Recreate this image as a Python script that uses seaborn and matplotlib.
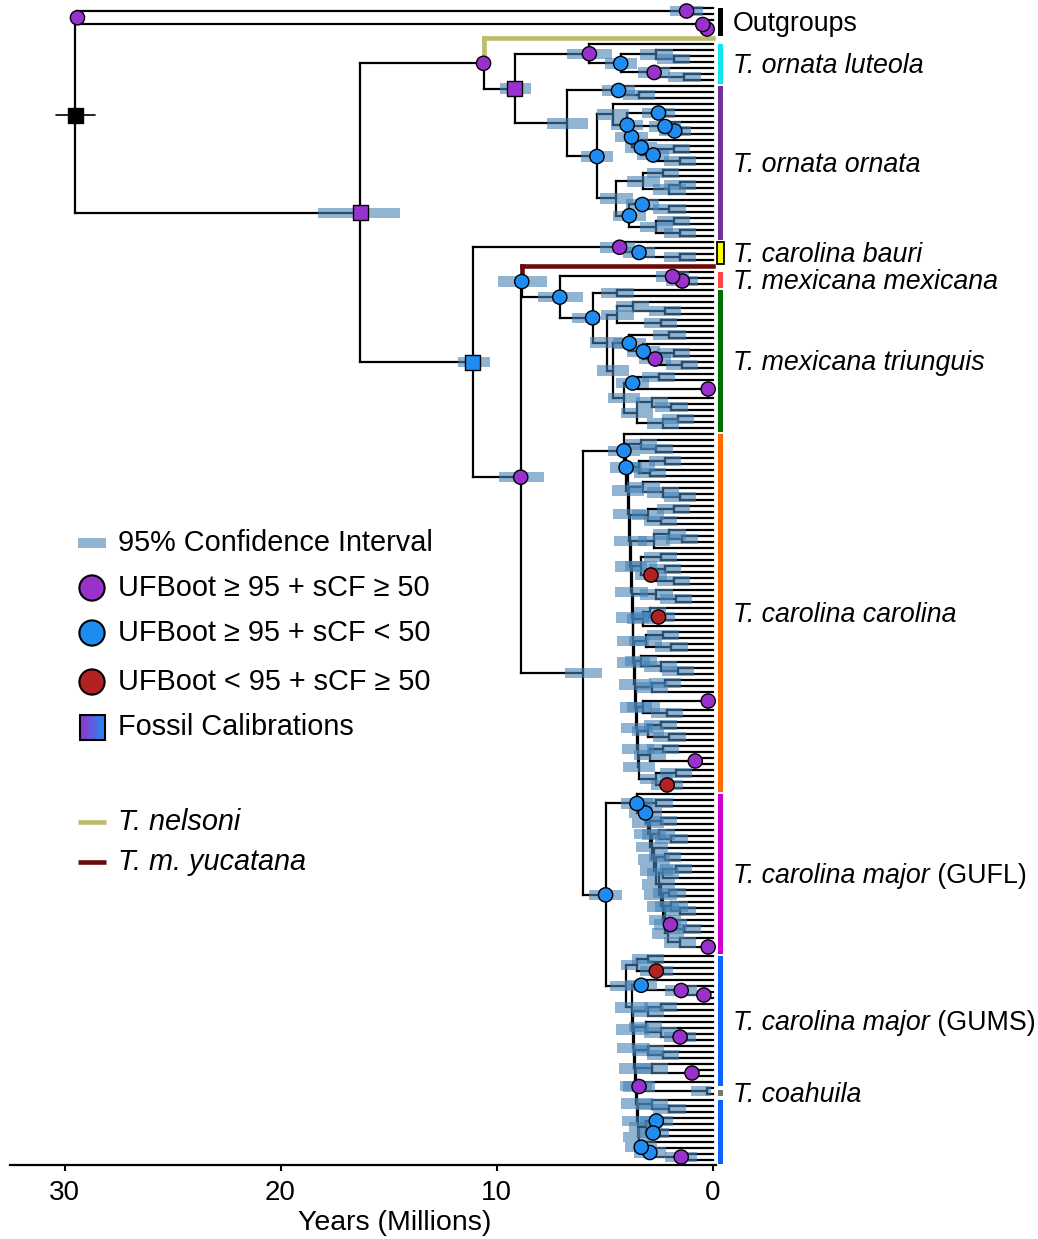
import matplotlib
matplotlib.use("Agg")
import numpy as np
import pandas as pd
import matplotlib.pyplot as plt
from matplotlib.collections import LineCollection
from matplotlib.patches import Rectangle
import seaborn as sns

# ------------------------------------------------------------------ DATA
# Newick-like strings. Tips: one letter (clade code). Internal node label:
#   age(Myr) | marker | ciOld:ciYoung      marker p/b/r circle, P/B/K square; ci "n" = none
OUTGROUPS = "((x,x)1.2|p,(x,(x,x)0.25|p|n)0.45|p|n)29.4|p|n"
LUTEOLA = "(x,((x,(x,x)1.8)2.6,(x,(x,x)1.3)2.7|p)4.25|b)5.7|p|6.75:4.65"
ORNATA_TOP = "(x,(x,x)3.4)4.35|b"
ORNATA_A = "(x,((x,x)2.5|b,((x,(x,x)1.75|b)2.2|b,(x,((x,x)1.8,(x,x)1.5)2.75|b)3.3|b)3.75|b)3.95|b)4.6"
ORNATA_E = "(((x,x)2.3,((x,x)1.5,x)2.0)3.2,((x,(x,x)2.0)3.25|b,((x,x)1.8,(x,x)1.5)2.6)3.85|b)4.45"
BAURI = "(x,(x,(x,x)1.5)3.4|b)4.3|p|5.2:3.6"
MEXICANA = "(x,(x,x)1.4|p)1.85|p"
TRI_T1 = "(x,x)4.4"
TRI_U = "((x,(x,x)2.2)3.7,(x,x)2.4)4.4"
TRI_P1 = "((x,x)2.0,(x,((x,x)1.8,(x,x)1.4)2.65|p)3.2|b)3.85|b"
TRI_VB = "((x,x)2.5,(x,x)0.2|p|n)3.7|b"
TRI_V2 = "((x,(x,x)1.9)2.8,((x,x)1.6,x)2.3)3.5"

CAROLINA_SUBCLADES = ["x", "(x,(x,x)2.6)3.3", "((x,x)2.2,(x,x)2.9)3.4", "(x,(x,(x,x)1.5)2.3)3.2",
                      "((x,x)1.8,(x,x)2.4)3.0", "((x,(x,x)1.4)2.0,x)2.7",
                      "((x,x)2.4,((x,x)2.2,(x,x)1.8)2.85|r)3.3", "(x,(x,x)1.7)2.6",
                      "((x,(x,x)2.5|r)2.9,x)3.2", "((x,x)2.3,(x,x)1.9)3.1", "(x,(x,(x,x)1.6)2.4)3.3",
                      "((x,x)2.2,x)2.8", "((x,x)0.2|p|n,(x,x)2.1)3.2", "((x,x)2.4,(x,x)2.0)3.0",
                      "((x,x)2.3,(x,x)0.8|p|n)2.9", "((x,x)1.7,(x,x)2.1|r)2.6"]
CAROLINA_SPINE = ["4.1|b", "4.0|b", "3.9", "3.85", "3.8", "3.78", "3.75", "3.7", "3.68",
                  "3.65", "3.6", "3.55", "3.5", "3.45", "3.4"]

GUFL_SUBCLADES = ["x", "(x,x)2.6", "x", "(x,x)2.4", "(x,(x,x)1.9)2.5", "x", "(x,x)2.2",
                  "((x,x)1.7,x)2.3", "x", "(x,x)2.0", "(x,(x,x)1.5)1.9", "(x,(x,x)1.3)1.95|p",
                  "x", "(x,x)0.2|p|n"]
GUFL_SPINE = ["3.5|b", "3.1|b", "3.0", "2.9", "2.8", "2.7", "2.6", "2.5", "2.4", "2.3",
              "2.2", "2.05", "1.5"]

GUMS_TOP = "((x,x)3.0,(x,x)2.6|r)3.5"
GUMS_SUBCLADES = ["(x,(x,(x,x)0.4|p|n)1.45|p)3.3|b", "((x,x)2.4,x)3.0", "(x,(x,(x,x)1.5|p)2.4)3.1",
                  "(x,(x,x)2.3)3.0", "(x,(x,x)0.95|p|n)2.8", "(x,(h,h)0.25|n)3.4|p",
                  "(x,(x,x)2.0)2.8", "((x,x)2.6|b,(x,x)2.75|b)3.1", "(x,(x,(x,x)1.45|p)2.9|b)3.3|b"]
GUMS_SPINE = ["3.75", "3.7", "3.65", "3.6", "3.55", "3.5", "3.45", "3.4"]

AGE_ROOT = "29.5|K|30.4:28.6"
AGE_CROWN = "16.3|P|18.26:14.47"
AGE_NELSONI_SPLIT = "10.6|p|n"
AGE_ORNATA_GROUP = "9.15|P|9.85:8.4"
AGE_ORNATA = "6.75||7.67:5.78"
AGE_ORNATA_LOWER = "5.35|b"
AGE_SOUTH = "11.1|B|11.8:10.3"
AGE_CAR_MEX = "8.88|p|9.9:7.8"
AGE_YUC = "8.83|b|9.94:7.67"
AGE_MEX_TRI = "7.07|b|8.1:6.0"
AGE_TRI_T2 = "4.9"
AGE_TRI_V = "4.1"
AGE_TRI_VP = "4.6"
AGE_TRI_ROOT = "5.55|b|6.5:5.2"
AGE_CAR_MAJOR = "6.0||6.85:5.1"
AGE_MAJOR = "4.95|b|5.7:4.2"
AGE_GUMS = "4.0"

CLADE_CODES = ["o", "l", "r", "b", "m", "t", "c", "f", "s", "h"]
CLADE_ITALIC = ["", "T. ornata luteola", "T. ornata ornata", "T. carolina bauri",
                "T. mexicana mexicana", "T. mexicana triunguis", "T. carolina carolina",
                "T. carolina major", "T. carolina major", "T. coahuila"]
CLADE_PLAIN = ["Outgroups", "", "", "", "", "", "", " (GUFL)", " (GUMS)", ""]
LEGEND_TEXTS = ["95% Confidence Interval", "UFBoot ≥ 95 + sCF ≥ 50", "UFBoot ≥ 95 + sCF < 50",
                "UFBoot < 95 + sCF ≥ 50", "Fossil Calibrations", "T. nelsoni", "T. m. yucatana"]
XTICKS = [30, 20, 10, 0]

# ------------------------------------------------------------------ STYLE
PURPLE, BLUE, RED = "#9932cc", "#1e8cf0", "#b22222"
CI_COLOR = "steelblue"
OLIVE, MAROON = "#bdbb6c", "#6a0a0a"
BAR_COLORS = {"o": "black", "l": "#10e6f0", "r": "#7030a0", "b": "#ffff00", "m": "#ff4545",
              "t": "#006f00", "c": "#ff6a00", "f": "#cc00cc", "s": "#0a64ff", "h": "#777777"}
CI_HALF = 0.75


def ladder(subs, labels):
    s = subs[-1]
    for sub, lab in zip(reversed(subs[:-1]), reversed(labels)):
        s = f"({sub},{s}){lab}"
    return s


def code(s, c):
    return s.replace("x", c)


luteola = code(LUTEOLA, "l")
ornata = f"({code(ORNATA_TOP,'r')},({code(ORNATA_A,'r')},{code(ORNATA_E,'r')}){AGE_ORNATA_LOWER}){AGE_ORNATA}"
upper = f"(N,({luteola},{ornata}){AGE_ORNATA_GROUP}){AGE_NELSONI_SPLIT}"
tri = code(f"({TRI_T1},({TRI_U},({TRI_P1},({TRI_VB},{TRI_V2}){AGE_TRI_V}){AGE_TRI_VP}){AGE_TRI_T2}){AGE_TRI_ROOT}", "t")
mextri = f"({code(MEXICANA,'m')},{tri}){AGE_MEX_TRI}"
yuc = f"(Y,{mextri}){AGE_YUC}"
carolina = code(ladder(CAROLINA_SUBCLADES, CAROLINA_SPINE), "c")
gufl = code(ladder(GUFL_SUBCLADES, GUFL_SPINE), "f")
gums = f"({code(GUMS_TOP,'s')},{code(ladder(GUMS_SUBCLADES, GUMS_SPINE),'s')}){AGE_GUMS}"
major = f"({gufl},{gums}){AGE_MAJOR}"
south = f"({code(BAURI,'b')},({yuc},({carolina},{major}){AGE_CAR_MAJOR}){AGE_CAR_MEX}){AGE_SOUTH}"
crown = f"({upper},{south}){AGE_CROWN}"
TREE = f"({code(OUTGROUPS,'o')},{crown}){AGE_ROOT}"


def parse(s):
    pos = 0

    def node():
        nonlocal pos
        if s[pos] == "(":
            pos += 1
            kids = [node()]
            while s[pos] == ",":
                pos += 1
                kids.append(node())
            pos += 1
            st = pos
            while pos < len(s) and s[pos] not in ",)":
                pos += 1
            return {"kids": kids, "label": s[st:pos]}
        st = pos
        while pos < len(s) and s[pos] not in ",)":
            pos += 1
        return {"tip": s[st:pos]}
    return node()


tree = parse(TREE)
tips, nodes = [], []


def layout(n):
    if "tip" in n:
        n["y"] = len(tips)
        n["age"] = 0.0
        tips.append(n["tip"])
        return
    for k in n["kids"]:
        layout(k)
    parts = n["label"].split("|")
    n["age"] = float(parts[0])
    n["marker"] = parts[1] if len(parts) > 1 else ""
    ci = parts[2] if len(parts) > 2 else ""
    if ci == "n":
        n["ci"] = None
    elif ci:
        a, b = ci.split(":")
        n["ci"] = (float(b), float(a))
    else:
        n["ci"] = (max(n["age"] - CI_HALF, 0.05), n["age"] + CI_HALF)
    n["y"] = (n["kids"][0]["y"] + n["kids"][-1]["y"]) / 2
    nodes.append(n)


layout(tree)
N = len(tips)

black, colored = [], []
for n in nodes:
    black.append([(n["age"], n["kids"][0]["y"]), (n["age"], n["kids"][-1]["y"])])
    for k in n["kids"]:
        seg = [(n["age"], k["y"]), (k["age"], k["y"])]
        if k.get("tip") in ("N", "Y"):
            col = OLIVE if k["tip"] == "N" else MAROON
            colored.append(([(n["age"], n["y"]), (n["age"], k["y"])], col))
            colored.append(([(n["age"], k["y"]), (-0.02, k["y"])], col))
        else:
            black.append(seg)

# ------------------------------------------------------------------ FIGURE
sns.set_style("ticks")
plt.rcParams["font.family"] = ["Liberation Sans", "DejaVu Sans"]
for key in ["text.color", "axes.labelcolor", "xtick.color", "ytick.color", "axes.edgecolor"]:
    plt.rcParams[key] = "black"

W, H = 1038, 1239
fig = plt.figure(figsize=(W / 100, H / 100), dpi=100)
AX_L, AX_R, AX_T, AX_B = 9.5, 716, 0, 1165
ax = fig.add_axes([AX_L / W, (H - AX_B) / H, (AX_R - AX_L) / W, (AX_B - AX_T) / H])
X0, PX = 712.5, 21.6
FIRST, LAST = 8, 1160
S = (LAST - FIRST) / (N - 1)


def px2age(x):
    return (X0 - x) / PX


ax.add_collection(LineCollection(black, colors="black", linewidths=1.6,
                                 capstyle="projecting", zorder=2))
for seg, col in colored:
    ax.add_collection(LineCollection([seg], colors=col, linewidths=3.3,
                                     capstyle="projecting", zorder=4))

# confidence intervals
ci_nodes = [n for n in nodes if n["ci"] is not None and n["marker"] != "K"]
ax.barh([n["y"] for n in ci_nodes], [n["ci"][1] - n["ci"][0] for n in ci_nodes],
        left=[n["ci"][0] for n in ci_nodes], height=1.75, color=CI_COLOR, alpha=0.6,
        linewidth=0, zorder=3)
for n in nodes:
    if n["marker"] == "K":
        ax.plot([n["ci"][1], n["ci"][0]], [n["y"], n["y"]], color="black", lw=1.2, zorder=3)

df = pd.DataFrame({"age": [n["age"] for n in nodes], "y": [n["y"] for n in nodes],
                   "kind": [n["marker"] for n in nodes]})
circ = df[df.kind.isin(["p", "b", "r"])]
sq = df[df.kind.isin(["P", "B", "K"])]
sns.scatterplot(data=circ, x="age", y="y", hue="kind", palette={"p": PURPLE, "b": BLUE, "r": RED},
                s=105, edgecolor="black", linewidth=1.0, legend=False, ax=ax, zorder=6)
sns.scatterplot(data=sq, x="age", y="y", hue="kind", palette={"P": PURPLE, "B": BLUE, "K": "black"},
                marker="s", s=120, edgecolor="black", linewidth=1.0, legend=False, ax=ax, zorder=6)

# clade bars and labels
runs = []
for i, c in enumerate(tips):
    if runs and runs[-1][0] == c and runs[-1][2] == i - 1:
        runs[-1][2] = i
    else:
        runs.append([c, i, i])
labelled = set()
LABEL_DY = 4 / S
for c, a, b in runs:
    if c not in BAR_COLORS:
        continue
    pad = -0.05 if c == "h" else 0.35
    x1, x2 = (716.5, 723.5) if c == "b" else (718, 723)
    bars = ax.barh([(a + b) / 2 + 0.3], [px2age(x1) - px2age(x2)], left=[px2age(x2)],
                   height=(b - a) + 2 * pad, color=BAR_COLORS[c],
                   edgecolor="black" if c == "b" else "none", linewidth=1.3 if c == "b" else 0,
                   zorder=5)
    for p in bars.patches:
        p.set_clip_on(False)
    if c not in labelled:
        labelled.add(c)
        j = CLADE_CODES.index(c)
        ytxt = (a + b) / 2 + LABEL_DY
        if CLADE_ITALIC[j]:
            t = ax.text(px2age(733), ytxt, CLADE_ITALIC[j], fontsize=19.3, style="italic",
                        va="center", ha="left", clip_on=False)
            if CLADE_PLAIN[j]:
                ax.annotate(CLADE_PLAIN[j], xy=(1, 0.5), xycoords=t, fontsize=19.3,
                            va="center", ha="left", annotation_clip=False)
        else:
            ax.text(px2age(733), ytxt, CLADE_PLAIN[j], fontsize=19.3, va="center", ha="left",
                    clip_on=False)

ax.set_xlim(px2age(AX_L), px2age(AX_R))
ax.set_ylim((AX_B - FIRST) / S, (AX_T - FIRST) / S)
ax.set_xticks(XTICKS)
ax.set_xticklabels([str(t) for t in XTICKS], fontsize=20)
ax.set_yticks([])
ax.set_ylabel("")
ax.set_xlabel("Years (Millions)", fontsize=20.5, labelpad=0)
ax.xaxis.set_label_coords((395 - AX_L) / (AX_R - AX_L), -0.039)
ax.tick_params(axis="x", direction="out", length=4, width=1.5, pad=7, color="black",
               labelcolor="black")
for side in ["top", "right", "left"]:
    ax.spines[side].set_visible(False)
ax.spines["bottom"].set_linewidth(1.6)
ax.spines["bottom"].set_color("black")
ax.patch.set_alpha(0)

# ------------------------------------------------------------------ LEGEND (pixel overlay)
lax = fig.add_axes([0, 0, 1, 1])
lax.set_xlim(0, W)
lax.set_ylim(H, 0)
lax.axis("off")
rows = [543, 588, 633, 682, 727, 822, 862]
lax.add_patch(Rectangle((78, rows[0] - 5), 28, 10, color=CI_COLOR, alpha=0.6, lw=0))
leg = pd.DataFrame({"x": [92, 92, 92], "y": rows[1:4], "k": ["p", "b", "r"]})
sns.scatterplot(data=leg, x="x", y="y", hue="k", palette={"p": PURPLE, "b": BLUE, "r": RED},
                s=330, edgecolor="black", linewidth=1.5, legend=False, ax=lax)
grad = np.linspace(0, 1, 64)[None, :, None]
c1 = np.array(matplotlib.colors.to_rgb(PURPLE))[None, None, :]
c2 = np.array(matplotlib.colors.to_rgb(BLUE))[None, None, :]
lax.imshow(c1 * (1 - grad) + c2 * grad, extent=(79.5, 104.5, rows[4] + 12.5, rows[4] - 12.5),
           aspect="auto", zorder=3)
lax.add_patch(Rectangle((79.5, rows[4] - 12.5), 25, 25, fill=False, edgecolor="black", lw=1.5, zorder=4))
lax.plot([78, 106], [rows[5], rows[5]], color=OLIVE, lw=3.3, solid_capstyle="butt")
lax.plot([78, 106], [rows[6], rows[6]], color=MAROON, lw=3.3, solid_capstyle="butt")
for k, (r, t) in enumerate(zip(rows, LEGEND_TEXTS)):
    lax.text(118, r, t, fontsize=20.8, va="center", ha="left",
             style="italic" if k >= 5 else "normal")
lax.set_xlim(0, W)
lax.set_ylim(H, 0)
lax.set_xlabel("")
lax.set_ylabel("")

fig.savefig("out.png", dpi=100)
